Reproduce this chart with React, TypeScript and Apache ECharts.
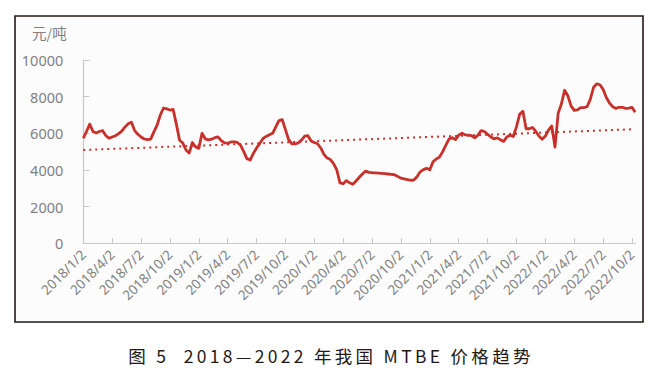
import React, { useEffect, useRef } from "react";
import * as echarts from "echarts";

// Categories: 2nd, 12th, 22nd of each month from 2018/1/2 to 2022/10/12
const years = [2018, 2019, 2020, 2021, 2022];
const days = [2, 12, 22];
const categories: string[] = [];
for (const y of years) {
  for (let m = 1; m <= 12; m++) {
    for (const d of days) {
      if (y === 2022 && (m > 10 || (m === 10 && d > 12))) continue;
      categories.push(`${y}/${m}/${d}`);
    }
  }
}

// MTBE price, yuan/ton
const prices = [
  5730, 6100, 6500, 6100, 6020, 6100, 6150, 5880, 5730, 5800,
  5870, 5980, 6120, 6350, 6520, 6600, 6150, 5950, 5800, 5690,
  5650, 5680, 6080, 6450, 7000, 7380, 7330, 7270, 7300, 6500,
  5620, 5470, 5090, 4920, 5500, 5250, 5180, 6000, 5700, 5640,
  5680, 5760, 5800, 5600, 5480, 5460, 5530, 5530, 5500, 5350,
  5000, 4620, 4540, 4900, 5200, 5450, 5720, 5830, 5920, 6000,
  6350, 6700, 6750, 6200, 5650, 5430, 5420, 5480, 5630, 5850,
  5870, 5580, 5500, 5430, 5200, 4850, 4650, 4570, 4350, 4000,
  3300, 3250, 3420, 3300, 3220, 3400, 3600, 3780, 3940, 3870,
  3850, 3840, 3830, 3820, 3800, 3780, 3760, 3740, 3650, 3550,
  3520, 3480, 3440, 3450, 3630, 3900, 4020, 4090, 4010, 4450,
  4600, 4700, 5000, 5350, 5700, 5760, 5660, 5900, 6000, 5920,
  5900, 5880, 5750, 5900, 6150, 6100, 5950, 5800, 5700, 5750,
  5650, 5560, 5800, 5900, 5830, 6350, 7050, 7200, 6250, 6250,
  6320, 6100, 5850, 5680, 5850, 6180, 6400, 5250, 7100, 7600,
  8350, 8050, 7500, 7250, 7280, 7400, 7400, 7450, 7850, 8500,
  8700, 8650, 8400, 7950, 7650, 7450, 7360, 7420, 7420, 7360,
  7380, 7420, 7150,
];

// Linear trend line end points [category index, value]
const trendData = [
  [0, 5090],
  [171, 6220],
];

const yTicks = [0, 2000, 4000, 6000, 8000, 10000];
const unitLabel = "元/吨";
const caption = "图 5  2018—2022 年我国 MTBE 价格趋势";

const RED = "#c8302a";
const GRAY = "#808080";

export default function App() {
  const ref = useRef<HTMLDivElement>(null);
  useEffect(() => {
    if (!ref.current) return;
    const chart = echarts.init(ref.current, null, { renderer: "svg" });
    const showIdx = (i: number) => i % 9 === 0;
    chart.setOption({
      animation: false,
      backgroundColor: "#ffffff",
      grid: { left: 83.3, right: 24.8, top: 60, bottom: 126.7, containLabel: false },
      graphic: [
        {
          type: "rect",
          z: -10,
          shape: { x: 15, y: 16, width: 628, height: 306 },
          style: { fill: "#fcfcfc", stroke: "#231815", lineWidth: 1.6 },
          silent: true,
        },
        {
          type: "text",
          x: 32,
          y: 32,
          style: {
            text: unitLabel,
            fill: GRAY,
            fontSize: 14.5,
            fontFamily: "Noto Sans CJK SC",
            verticalAlign: "middle",
            align: "left",
          },
        },
        {
          type: "text",
          x: 331,
          y: 355,
          style: {
            text: caption,
            fill: "#231815",
            fontSize: 17.5,
            fontFamily: "Noto Sans CJK SC",
            verticalAlign: "middle",
            align: "center",
          },
        },
      ],
      xAxis: {
        type: "category",
        data: categories,
        boundaryGap: false,
        axisLine: { lineStyle: { color: "#c8c8c8", width: 1.2 } },
        axisTick: {
          inside: true,
          length: 5,
          interval: (i: number) => showIdx(i),
          lineStyle: { color: "#c8c8c8" },
        },
        axisLabel: {
          interval: (i: number) => showIdx(i),
          rotate: 45,
          color: GRAY,
          fontSize: 13.5,
          fontFamily: "Noto Sans",
          margin: 9,
        },
        splitLine: { show: false },
      },
      yAxis: {
        type: "value",
        min: yTicks[0],
        max: yTicks[yTicks.length - 1],
        interval: yTicks[1] - yTicks[0],
        axisLine: { show: true, lineStyle: { color: "#c8c8c8", width: 1.2 } },
        axisTick: { show: true, inside: true, length: 6, lineStyle: { color: "#c8c8c8" } },
        axisLabel: {
          color: GRAY,
          fontSize: 14.5,
          fontFamily: "Noto Sans",
          margin: 20,
          formatter: (v: number) => String(v),
        },
        splitLine: { show: false },
      },
      series: [
        {
          type: "line",
          data: prices,
          showSymbol: false,
          symbol: "none",
          lineStyle: { color: RED, width: 2.8, join: "round" },
          z: 3,
        },
        {
          type: "line",
          data: trendData,
          showSymbol: false,
          symbol: "none",
          lineStyle: { color: RED, width: 2, type: [2, 4] },
          z: 2,
        },
      ],
    });
    return () => chart.dispose();
  }, []);
  return (
    <>
      <style>{`.mtbe-chart text[style*="17.5px"], .mtbe-chart text[font-size*="17.5"] { letter-spacing: 3.3px; }`}</style>
      <div
        ref={ref}
        className="mtbe-chart"
        style={{ position: "absolute", left: 0, top: 0, width: 660, height: 370 }}
      />
    </>
  );
}
